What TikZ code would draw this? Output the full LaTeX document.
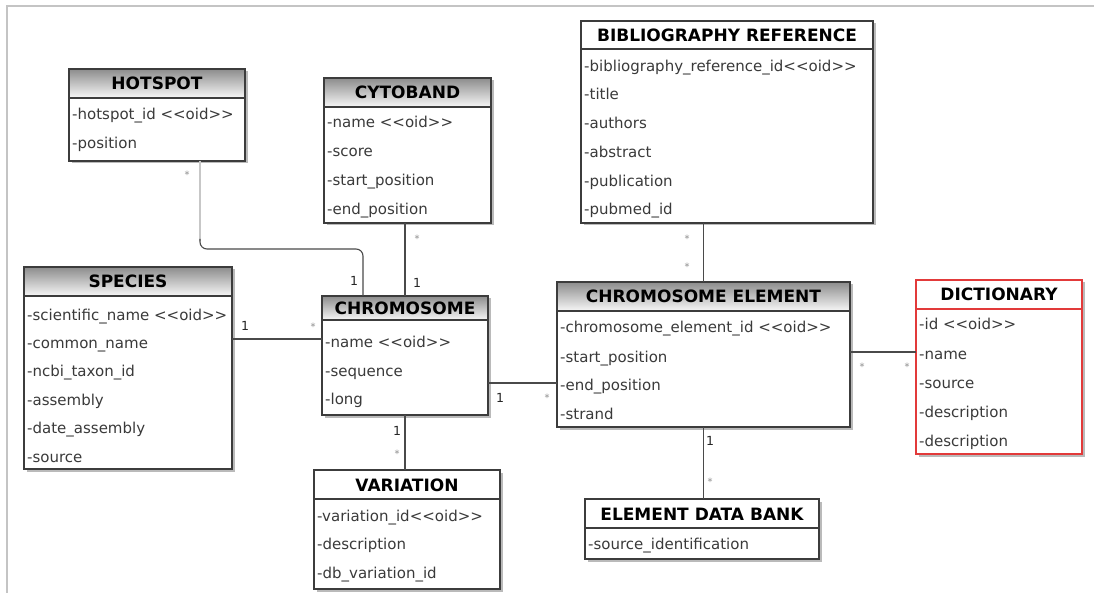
\documentclass[tikz,border=0pt]{standalone}
\usepackage{fontspec}
\setmainfont{DejaVu Sans}
\usetikzlibrary{shadows}

\definecolor{framegray}{HTML}{C4C4C4}
\definecolor{boxline}{HTML}{3C3C3C}
\definecolor{rowink}{HTML}{3A3A3A}
\definecolor{linkgray}{HTML}{4A4A4A}
\definecolor{dictred}{HTML}{E23A3A}

% stereotype marker; the kerns keep << and >> from turning into guillemets
\newcommand\oid{<\kern0pt<oid>\kern0pt>}

\tikzset{
  classbody/.style={fill=white, inner sep=0pt, outer sep=0pt,
    drop shadow={shadow xshift=2.5pt, shadow yshift=-2.5pt, opacity=.45, fill=black!60}},
  headshade/.style={top color=black!45, bottom color=black!3},
  titletext/.style={font=\bfseries\fontsize{17}{19}\selectfont, text=black, inner sep=0pt, anchor=base},
  rowtext/.style={font=\fontsize{15}{17}\selectfont, text=rowink, inner sep=0pt, anchor=base west},
  link/.style={draw=linkgray, line width=1.1pt},
  one/.style={font=\fontsize{12.5}{14}\selectfont, text=black!85, inner sep=0pt},
  many/.style={font=\fontsize{10}{12}\selectfont, text=black!45, inner sep=0pt},
}

% #1 name, #2 left, #3 top, #4 right, #5 bottom, #6 header bottom,
% #7 title, #8 edge colour, #9 header fill
\newcommand\umlclass[9]{%
  \node[classbody, minimum width={(#4-#2)*1pt}, minimum height={(#5-#3)*1pt}]
    (#1) at ({(#2+#4)/2},{(#3+#5)/2}) {};
  \path[#9] (#1.north west) rectangle (#1.east |- 0,#6);
  \draw[#8, line width=1.1pt] (#1.west |- 0,#6) -- (#1.east |- 0,#6);
  \draw[#8, line width=1.1pt] (#1.north west) rectangle (#1.south east);
  \node[titletext] (#1-title) at ({(#2+#4)/2},{(#3+#6)/2+6.5}) {#7};
}
% #1 name, #2 left, #3 list of row-centre/text pairs
\newcommand\umlrows[3]{%
  \foreach \ry/\rt [count=\ri] in {#3} {
    \node[rowtext] (#1-row\ri) at ({#2+3},{\ry+5}) {\rt};
  }
}

\begin{document}
\begin{tikzpicture}[x=1pt, y=-1pt]
\useasboundingbox (0,0) rectangle (1094,593);

% outer frame
\draw[framegray, line width=2pt] (1094,6.5) -- (6.5,6.5) -- (6.5,593);

% classes
\umlclass{hotspot}{69}{69}{245}{161}{98}{HOTSPOT}{boxline}{headshade}
\umlrows{hotspot}{69}{115/{-hotspot\_id \oid}, 144/{-position}}

\umlclass{cyto}{324}{78}{491}{223}{107}{CYTOBAND}{boxline}{headshade}
\umlrows{cyto}{324}{123/{-name \oid}, 152/{-score}, 181/{-start\_position}, 210/{-end\_position}}

\umlclass{bib}{581}{21}{873}{223}{49}{BIBLIOGRAPHY REFERENCE}{boxline}{fill=white}
\umlrows{bib}{581}{67/{-bibliography\_reference\_id\oid}, 95/{-title}, 124/{-authors},
  153/{-abstract}, 182/{-publication}, 210/{-pubmed\_id}}

\umlclass{species}{24}{267}{232}{469}{296}{SPECIES}{boxline}{headshade}
\umlrows{species}{24}{315/{-scientific\_name \oid}, 343/{-common\_name}, 371/{-ncbi\_taxon\_id},
  400/{-assembly}, 428/{-date\_assembly}, 457/{-source}}

\umlclass{chrom}{322}{296}{488}{415}{320}{CHROMOSOME}{boxline}{headshade}
\umlrows{chrom}{322}{342/{-name \oid}, 371/{-sequence}, 399/{-long}}

\umlclass{variation}{314}{470}{500}{589}{499}{VARIATION}{boxline}{fill=white}
\umlrows{variation}{314}{516/{-variation\_id\oid}, 544/{-description}, 573/{-db\_variation\_id}}

\umlclass{chromel}{557}{282}{850}{427}{311}{CHROMOSOME ELEMENT}{boxline}{headshade}
\umlrows{chromel}{557}{328/{-chromosome\_element\_id \oid}, 357/{-start\_position},
  385/{-end\_position}, 414/{-strand}}

\umlclass{edb}{585}{499}{819}{559}{528}{ELEMENT DATA BANK}{boxline}{fill=white}
\umlrows{edb}{585}{544/{-source\_identification}}

\umlclass{dict}{916}{280}{1082}{454}{309}{DICTIONARY}{dictred}{fill=white}
\umlrows{dict}{916}{325/{-id \oid}, 354/{-name}, 383/{-source}, 412/{-description}, 441/{-description}}

% associations
\draw[link, draw=black!22] ([xshift=43pt]hotspot.south) -- ++(0,80);
\draw[link, rounded corners=7pt] ([xshift=43pt]hotspot.south) ++(0,78) -- ++(0,10)
  -| ([xshift=-42pt]chrom.north);
\draw[link] (chrom.north |- cyto.south) -- (chrom.north);
\draw[link] (chromel.north |- bib.south) -- (chromel.north);
\draw[link] (species.east |- 0,339) -- (chrom.west |- 0,339);
\draw[link] (chrom.east |- 0,383) -- (chromel.west |- 0,383);
\draw[link] (chrom.south) -- (chrom.south |- variation.north);
\draw[link] (chromel.south) -- (chromel.south |- edb.north);
\draw[link] (chromel.east |- 0,352) -- (dict.west |- 0,352);

% multiplicities
\node[many] (m-hot)     at (187,175) {*};
\node[one]  (o-hot)     at (354,281) {1};
\node[many] (m-cyto)    at (417,239) {*};
\node[one]  (o-cyto)    at (417,283) {1};
\node[many] (m-bib)     at (687,239) {*};
\node[many] (m-bibel)   at (687,267) {*};
\node[one]  (o-spec)    at (245,326) {1};
\node[many] (m-spec)    at (313,327) {*};
\node[one]  (o-chel)    at (500,398) {1};
\node[many] (m-chel)    at (547,398) {*};
\node[one]  (o-var)     at (397,431) {1};
\node[many] (m-var)     at (397,454) {*};
\node[one]  (o-edb)     at (710,441) {1};
\node[many] (m-edb)     at (710,482) {*};
\node[many] (m-dictel)  at (862,367) {*};
\node[many] (m-dict)    at (907,367) {*};
\end{tikzpicture}
\end{document}
